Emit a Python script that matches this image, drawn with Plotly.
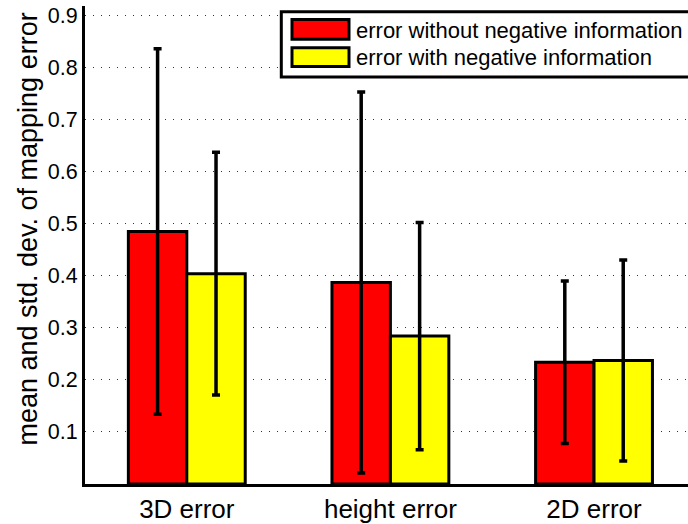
import plotly.graph_objects as go

# ---- data ----
categories = ["3D error", "height error", "2D error"]
series_names = ["error without negative information", "error with negative information"]
mean_without = [0.485, 0.387, 0.234]
std_without = [0.351, 0.366, 0.156]
mean_with = [0.404, 0.284, 0.237]
std_with = [0.233, 0.218, 0.193]
ytick_vals = [0.1, 0.2, 0.3, 0.4, 0.5, 0.6, 0.7, 0.8, 0.9]
ytick_text = ["0.1", "0.2", "0.3", "0.4", "0.5", "0.6", "0.7", "0.8", "0.9"]

colors = ["#FF0000", "#FFFF00"]
FONT = "Liberation Sans, Arial, Helvetica, sans-serif"

W, H = 688, 524
ML, MR, MT, MB = 85, 0, 6, 37
PW = W - ML - MR
PH = H - MT - MB


def px_x(p):
    return (p - ML) / PW


def px_y(p):
    return (H - MB - p) / PH


fig = go.Figure()
for name, means, stds, col in [
    (series_names[0], mean_without, std_without, colors[0]),
    (series_names[1], mean_with, std_with, colors[1]),
]:
    fig.add_trace(go.Bar(
        x=categories, y=means, name=name,
        marker=dict(color=col, line=dict(color="black", width=3)),
        error_y=dict(type="data", array=stds, symmetric=True,
                     color="black", thickness=3.5, width=4),
        showlegend=False,
    ))

fig.update_layout(
    width=W, height=H,
    margin=dict(l=ML, r=MR, t=MT, b=MB, pad=0),
    paper_bgcolor="white", plot_bgcolor="white",
    barmode="group", bargap=0.426, bargroupgap=0,
    font=dict(family=FONT, color="black"),
)
fig.update_xaxes(
    type="category", range=[-0.5, 2.4616],
    showline=True, linecolor="black", linewidth=3,
    showgrid=False, ticks="", tickfont=dict(size=26, family=FONT, color="black"),
    zeroline=False,
)
fig.update_yaxes(
    range=[0, 0.918], tickvals=ytick_vals, ticktext=ytick_text,
    showline=True, linecolor="black", linewidth=3,
    showgrid=True, gridcolor="#333333", gridwidth=1, griddash="1px,7px",
    ticks="", tickfont=dict(size=21.5, family=FONT, color="black"),
    zeroline=False,
)

# y title as annotation (positioned like the reference)
fig.add_annotation(
    text="mean and std. dev. of mapping error",
    xref="paper", yref="paper", x=px_x(28), y=px_y(231),
    xanchor="center", yanchor="middle", textangle=-90,
    showarrow=False, font=dict(size=27, family=FONT, color="black"),
)

# custom legend
fig.add_shape(type="rect", xref="paper", yref="paper",
              x0=px_x(281.3), x1=px_x(700), y0=px_y(11.7), y1=px_y(77.5),
              line=dict(color="black", width=3), fillcolor="white", layer="above")
sw_rows = [(19.5, 39.5, 30.5), (48, 67, 58)]
for (y0, y1, yt), name, col in zip(sw_rows, series_names, colors):
    fig.add_shape(type="rect", xref="paper", yref="paper",
                  x0=px_x(292), x1=px_x(349), y0=px_y(y0), y1=px_y(y1),
                  line=dict(color="black", width=3), fillcolor=col, layer="above")
    fig.add_annotation(text=name, xref="paper", yref="paper",
                       x=px_x(354), y=px_y(yt), xanchor="left", yanchor="middle",
                       showarrow=False, font=dict(size=22, family=FONT, color="black"))

fig.write_html("out.html")
